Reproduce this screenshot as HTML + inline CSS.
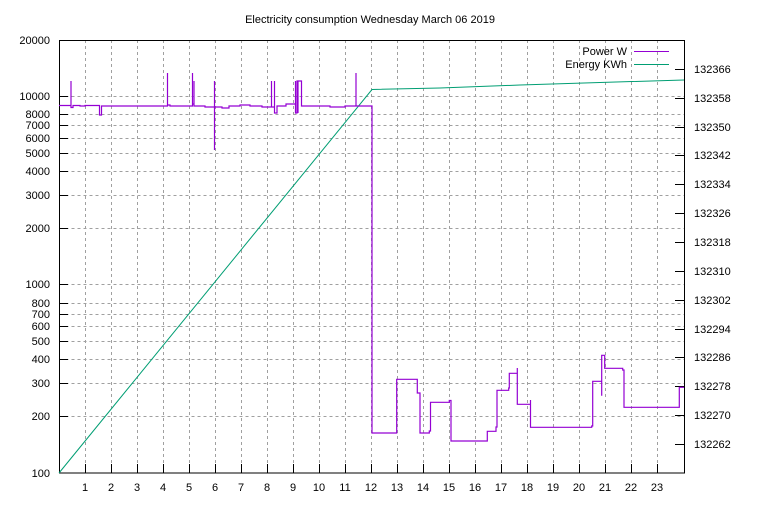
<!DOCTYPE html>
<html><head><meta charset="utf-8"><style>
html,body{margin:0;padding:0;background:#fff}
svg text{font-family:"Liberation Sans",sans-serif;font-size:11px;fill:#000}
</style></head><body>
<svg width="768" height="500" viewBox="0 0 768 500" xmlns="http://www.w3.org/2000/svg">
<rect width="768" height="500" fill="#fff"/>
<text x="370" y="23" text-anchor="middle" font-size="12">Electricity consumption Wednesday March 06 2019</text>
<g stroke="#a0a0a0" stroke-width="1" stroke-dasharray="3,3" fill="none">
<path d="M59.5 416.5H684M59.5 383.5H684M59.5 359.5H684M59.5 341.5H684M59.5 326.5H684M59.5 314.5H684M59.5 303.5H684M59.5 284.5H684M59.5 228.5H684M59.5 195.5H684M59.5 171.5H684M59.5 153.5H684M59.5 138.5H684M59.5 125.5H684M59.5 114.5H684M59.5 96.5H684"/>
<path d="M85.5 40V473M111.5 40V473M137.5 40V473M163.5 40V473M189.5 40V473M215.5 40V473M241.5 40V473M267.5 40V473M293.5 40V473M319.5 40V473M345.5 40V473M371.5 40V473M397.5 40V473M423.5 40V473M449.5 40V473M475.5 40V473M501.5 40V473M527.5 40V473M553.5 40V473M579.5 40V473M605.5 40V473M631.5 40V473M657.5 40V473"/>
</g>
<rect x="59.5" y="40.5" width="625" height="432.5" fill="none" stroke="#000"/>
<g stroke="#000">
<path d="M59 416.5h9M59 383.5h9M59 359.5h9M59 341.5h9M59 326.5h9M59 314.5h9M59 303.5h9M59 284.5h9M59 228.5h9M59 195.5h9M59 171.5h9M59 153.5h9M59 138.5h9M59 125.5h9M59 114.5h9M59 96.5h9M59 40.5h9"/>
<path d="M85.5 473v-9M111.5 473v-9M137.5 473v-9M163.5 473v-9M189.5 473v-9M215.5 473v-9M241.5 473v-9M267.5 473v-9M293.5 473v-9M319.5 473v-9M345.5 473v-9M371.5 473v-9M397.5 473v-9M423.5 473v-9M449.5 473v-9M475.5 473v-9M501.5 473v-9M527.5 473v-9M553.5 473v-9M579.5 473v-9M605.5 473v-9M631.5 473v-9M657.5 473v-9"/>
<path d="M684 69.5h-9M684 98.5h-9M684 127.5h-9M684 155.5h-9M684 184.5h-9M684 213.5h-9M684 242.5h-9M684 271.5h-9M684 300.5h-9M684 329.5h-9M684 357.5h-9M684 386.5h-9M684 415.5h-9M684 444.5h-9"/>
</g>
<g text-anchor="end">
<text x="50" y="420">200</text><text x="50" y="387">300</text><text x="50" y="363">400</text><text x="50" y="345">500</text><text x="50" y="330">600</text><text x="50" y="318">700</text><text x="50" y="307">800</text><text x="50" y="288">1000</text><text x="50" y="232">2000</text><text x="50" y="199">3000</text><text x="50" y="175">4000</text><text x="50" y="157">5000</text><text x="50" y="142">6000</text><text x="50" y="129">7000</text><text x="50" y="118">8000</text><text x="50" y="100">10000</text><text x="50" y="44">20000</text><text x="50" y="477">100</text>
</g>
<g text-anchor="middle">
<text x="85" y="491">1</text><text x="111" y="491">2</text><text x="137" y="491">3</text><text x="163" y="491">4</text><text x="189" y="491">5</text><text x="215" y="491">6</text><text x="241" y="491">7</text><text x="267" y="491">8</text><text x="293" y="491">9</text><text x="319" y="491">10</text><text x="345" y="491">11</text><text x="371" y="491">12</text><text x="397" y="491">13</text><text x="423" y="491">14</text><text x="449" y="491">15</text><text x="475" y="491">16</text><text x="501" y="491">17</text><text x="527" y="491">18</text><text x="553" y="491">19</text><text x="579" y="491">20</text><text x="605" y="491">21</text><text x="631" y="491">22</text><text x="657" y="491">23</text>
</g>
<g>
<text x="694" y="73">132366</text><text x="694" y="102">132358</text><text x="694" y="131">132350</text><text x="694" y="159">132342</text><text x="694" y="188">132334</text><text x="694" y="217">132326</text><text x="694" y="246">132318</text><text x="694" y="275">132310</text><text x="694" y="304">132302</text><text x="694" y="333">132294</text><text x="694" y="361">132286</text><text x="694" y="390">132278</text><text x="694" y="419">132270</text><text x="694" y="448">132262</text>
</g>
<text x="627" y="55" text-anchor="end">Power W</text>
<text x="627" y="68" text-anchor="end">Energy KWh</text>
<path d="M634 51.5h35" stroke="#9400d3"/>
<path d="M634 64.5h35" stroke="#009e73"/>
<path d="M59 473L372 89.5L440 88L520 85L600 82.5L684 80" fill="none" stroke="#009e73" stroke-width="1"/>
<path fill="none" stroke="#9400d3" stroke-width="1.2" d="M59 105.5H71V81V107.5H73V105.5H80V106H85V105.5H99.5V115H101.5V106H167.5V73V105H170V106H192.5V73V104H194V81V106H205V107H214.5V81V150V107H222V108H229V106H240V105H250V106H262V107H271.5V81V107H274.5V81V113H277V106H286V104H295.5V81V113H297V81H298V113V81H300V81H301.5V81V106H303V106H330V107H345V106H356V73V106H372V264V433H396.7V379.3H417.3V393H420V433H429.3V431H430.5V402.3H449.3V400.5H451V441H487.3V431.3H496V427H497V390.3H508.7V388H509.3V373.3H517.3V368V404.3H530.5V400V427.3H591.7V426H592.7V381.3H601.7V395.7V355.3H604.7V368.3H622.7V370H624V407.3H679.3V387.3H684"/>
</svg>
</body></html>
